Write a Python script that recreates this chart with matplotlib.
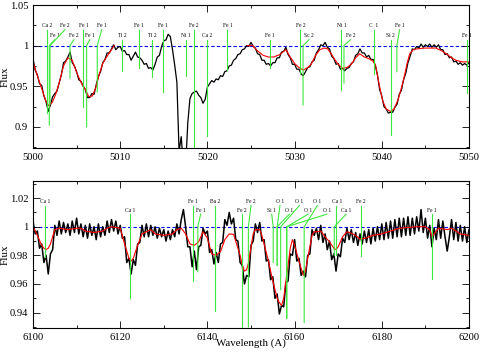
import numpy as np
import matplotlib
matplotlib.use("Agg")
import matplotlib.pyplot as plt
from matplotlib.ticker import MultipleLocator, FormatStrFormatter

plt.rcParams['font.family'] = ['Liberation Serif', 'DejaVu Serif']

# ---- top panel: observed spectrum (0.25 A steps, 5000-5050) ----
obs1_flux = [
    0.984, 0.970, 0.964, 0.953, 0.951, 0.938, 0.931, 0.919, 0.927, 0.937,
    0.941, 0.944, 0.954, 0.964, 0.979, 0.981, 0.986, 0.992, 0.979, 0.975,
    0.968, 0.958, 0.956, 0.950, 0.946, 0.936, 0.936, 0.941, 0.940, 0.952,
    0.962, 0.968, 0.979, 0.983, 0.991, 0.991, 0.996, 1.001, 0.995, 0.998,
    0.999, 0.993, 0.994, 0.989, 0.989, 0.982, 0.987, 0.992, 0.986, 0.985,
    0.982, 0.977, 0.978, 0.972, 0.973, 0.970, 0.977, 0.986, 0.988, 0.999,
    1.006, 1.007, 1.014, 1.011, 0.995, 0.976, 0.955, 0.870, 0.888, 0.850,
    0.850, 0.905, 0.935, 0.941, 0.943, 0.944, 0.939, 0.936, 0.929, 0.934,
    0.949, 0.953, 0.957, 0.955, 0.959, 0.958, 0.963, 0.962, 0.968, 0.969,
    0.975, 0.976, 0.982, 0.984, 0.989, 0.990, 0.995, 0.996, 1.000, 0.999,
    1.004, 0.999, 0.997, 0.990, 0.989, 0.982, 0.982, 0.977, 0.978, 0.975,
    0.979, 0.979, 0.985, 0.985, 0.992, 0.993, 0.998, 0.989, 0.985, 0.977,
    0.977, 0.971, 0.971, 0.965, 0.963, 0.968, 0.973, 0.974, 0.980, 0.982,
    0.991, 0.995, 1.001, 1.000, 1.004, 0.998, 0.996, 0.987, 0.984, 0.977,
    0.978, 0.971, 0.972, 0.969, 0.972, 0.973, 0.978, 0.980, 0.988, 0.990,
    0.996, 0.991, 0.991, 0.986, 0.988, 0.983, 0.983, 0.976, 0.964, 0.946,
    0.938, 0.925, 0.922, 0.917, 0.918, 0.918, 0.924, 0.928, 0.940, 0.945,
    0.958, 0.966, 0.979, 0.987, 0.996, 0.995, 0.999, 0.997, 1.002, 0.998,
    1.001, 0.999, 1.002, 0.998, 1.001, 0.998, 1.001, 0.995, 0.995, 0.989,
    0.990, 0.985, 0.986, 0.980, 0.981, 0.977, 0.979, 0.976, 0.978, 0.976,
    0.979,
]

# ---- top panel: model spectrum (two pieces) ----
mod1a_wl = [5000, 5000.5, 5001, 5001.5, 5001.8, 5002.2, 5002.6, 5003, 5003.5,
            5004, 5004.5, 5005, 5005.5, 5006, 5006.4, 5006.8, 5007.2, 5007.6,
            5008, 5008.5, 5009, 5009.3]
mod1a_flux = [0.980, 0.963, 0.947, 0.931, 0.926, 0.930, 0.940, 0.954, 0.975,
              0.985, 0.982, 0.967, 0.955, 0.946, 0.937, 0.938, 0.948, 0.965,
              0.978, 0.987, 0.995, 1.000]
mod1b_wl = [5024.6, 5025.2, 5025.7, 5026.4, 5027.0, 5027.6, 5028.3, 5029.0,
            5029.5, 5030.0, 5030.5, 5031.0, 5031.5, 5031.9, 5032.4, 5032.9,
            5033.4, 5033.8, 5034.2, 5034.6, 5035.0, 5035.5, 5036.0, 5036.5,
            5037.0, 5037.46, 5038.0, 5038.5, 5039.0, 5039.3, 5039.7, 5040.1,
            5040.5, 5041.0, 5041.4, 5041.85, 5042.2, 5042.6, 5042.9, 5043.2,
            5043.6, 5044.0, 5045.0, 5046.2, 5046.8, 5047.4, 5048.0, 5048.5,
            5049.2, 5050.0]
mod1b_flux = [1.000, 1.000, 0.994, 0.988, 0.986, 0.986, 0.989, 0.995,
              0.986, 0.978, 0.973, 0.970, 0.973, 0.977, 0.988, 0.995,
              0.997, 0.996, 0.990, 0.983, 0.977, 0.972, 0.973, 0.977,
              0.985, 0.990, 0.986, 0.984, 0.981, 0.975, 0.952, 0.932,
              0.922, 0.919, 0.922, 0.933, 0.946, 0.963, 0.978, 0.990,
              0.995, 0.996, 0.997, 0.997, 0.994, 0.990, 0.985, 0.982,
              0.980, 0.980]

# ---- bottom panel: observed spectrum (0.5 A steps, 6100-6200) ----
obs2_flux = [
    1.004, 0.995, 0.997, 0.985, 0.988, 0.975, 0.980, 0.967, 0.981, 0.984,
    1.001, 0.994, 1.004, 0.995, 1.003, 0.996, 1.002, 0.994, 1.004, 0.996,
    1.006, 0.995, 1.002, 0.993, 1.001, 0.992, 1.002, 0.994, 1.000, 0.991,
    1.002, 0.993, 1.000, 0.994, 1.004, 0.996, 1.005, 0.997, 1.004, 0.995,
    1.001, 0.992, 0.993, 0.975, 0.978, 0.967, 0.977, 0.973, 0.988, 0.989,
    1.001, 0.993, 1.002, 0.993, 1.001, 0.994, 1.000, 0.992, 0.999, 0.993,
    0.998, 0.990, 0.997, 0.991, 0.998, 0.993, 1.002, 0.995, 1.005, 1.012,
    1.000, 0.986, 0.986, 0.972, 0.983, 0.970, 0.986, 0.987, 0.999, 0.995,
    0.997, 0.982, 0.984, 0.974, 0.982, 0.975, 0.988, 0.989, 1.005, 1.001,
    1.010, 1.002, 1.006, 0.991, 0.990, 0.975, 0.973, 0.960, 0.966, 0.965,
    0.987, 0.990, 1.002, 0.996, 1.003, 0.990, 0.991, 0.976, 0.977, 0.963,
    0.965, 0.950, 0.953, 0.939, 0.945, 0.944, 0.961, 0.962, 0.981, 0.980,
    0.991, 0.976, 0.978, 0.966, 0.969, 0.965, 0.980, 0.981, 0.998, 0.994,
    0.999, 0.991, 1.001, 0.989, 0.995, 0.984, 0.990, 0.977, 0.981, 0.969,
    0.981, 0.979, 0.992, 0.989, 0.999, 0.991, 0.998, 0.989, 0.996, 0.987,
    0.995, 0.988, 0.997, 0.989, 0.998, 0.988, 0.999, 0.990, 1.000, 0.991,
    1.002, 0.991, 1.003, 0.992, 1.004, 0.992, 1.005, 0.993, 1.006, 0.993,
    1.006, 0.994, 1.007, 0.994, 1.006, 0.995, 1.007, 0.997, 1.012, 0.996,
    1.006, 0.992, 1.001, 0.986, 0.999, 0.991, 1.005, 0.992, 1.004, 0.993,
    0.983, 0.993, 1.005, 0.991, 1.003, 0.990, 1.001, 0.990, 1.000, 0.989,
    0.998,
]

mod2_wl = [6100, 6101, 6102, 6102.5, 6103, 6103.5, 6104, 6104.5, 6105, 6106,
           6108, 6110, 6111, 6112, 6114, 6116, 6117, 6118, 6120, 6121, 6122,
           6122.5, 6123, 6124, 6125, 6126, 6127, 6128, 6130, 6132, 6133, 6134,
           6135, 6136, 6137, 6138, 6139, 6140, 6141, 6142, 6143, 6144, 6145,
           6146, 6147, 6147.5, 6148, 6148.5, 6149, 6149.5, 6150, 6150.5, 6151,
           6152, 6152.5, 6153, 6154, 6155, 6156, 6156.5, 6157, 6157.5, 6158,
           6158.5, 6159, 6159.5, 6160, 6161, 6162, 6162.5, 6163, 6164, 6164.5,
           6165, 6166, 6167, 6168, 6169, 6169.5, 6170, 6171, 6172, 6173, 6174,
           6175, 6176, 6178, 6180, 6182, 6184, 6186, 6188, 6190, 6191, 6191.5,
           6192, 6193, 6195, 6196, 6198, 6200]
mod2_flux = [1.000, 0.994, 0.987, 0.985, 0.984, 0.985, 0.988, 0.993, 0.998,
             0.999, 0.998, 0.999, 0.999, 0.997, 0.996, 0.997, 0.999, 1.000,
             0.999, 0.988, 0.978, 0.976, 0.978, 0.987, 0.995, 0.9965, 0.998,
             0.995, 0.994, 0.995, 0.998, 0.999, 0.995, 0.988, 0.987, 0.9895,
             0.9965, 0.992, 0.981, 0.980, 0.9825, 0.991, 0.995, 0.9947, 0.985,
             0.980, 0.9735, 0.969, 0.970, 0.9756, 0.986, 0.995, 0.998, 0.998,
             0.994, 0.988, 0.976, 0.962, 0.950, 0.947, 0.945, 0.950, 0.962,
             0.973, 0.985, 0.991, 0.987, 0.976, 0.966, 0.969, 0.978, 0.994,
             0.9965, 0.9965, 0.997, 0.993, 0.9895, 0.985, 0.984, 0.986, 0.993,
             0.9965, 0.9955, 0.994, 0.9914, 0.9918, 0.994, 0.995, 0.997,
             0.999, 0.9995, 1.000, 1.000, 0.998, 0.993, 0.995, 0.999, 0.998,
             0.999, 0.995, 0.994]

# ---- line identifications: (line wl, label, row, label wl, depth) ----
ids_top = [
    (5001.57, "Ca 2", 1, 5001.57, 0.917),
    (5001.87, "Fe 1", 2, 5002.50, 0.902),
    (5001.95, "Fe 2", 1, 5003.65, 0.928),
    (5004.24, "Fe 2", 2, 5004.70, 0.960),
    (5005.77, "Fe 1", 1, 5005.77, 0.925),
    (5006.15, "Fe 1", 2, 5006.53, 0.900),
    (5007.37, "Fe 1", 1, 5007.87, 0.943),
    (5010.23, "Ti 2", 2, 5010.23, 0.969),
    (5012.10, "Fe 1", 1, 5012.10, 0.972),
    (5013.70, "Ti 2", 2, 5013.70, 0.962),
    (5014.93, "Fe 1", 1, 5014.93, 0.943),
    (5017.53, "Ni 1", 2, 5017.53, 0.963),
    (5018.48, "Fe 2", 1, 5018.48, 0.800),
    (5020.00, "Ca 2", 2, 5020.00, 0.889),
    (5022.30, "Fe 1", 1, 5022.30, 0.970),
    (5027.15, "Fe 1", 2, 5027.15, 0.972),
    (5030.66, "Fe 2", 1, 5030.66, 0.966),
    (5030.97, "Sc 2", 2, 5031.65, 0.927),
    (5035.36, "Ni 1", 1, 5035.36, 0.946),
    (5035.66, "Fe 2", 2, 5036.40, 0.954),
    (5039.06, "C  1", 1, 5039.06, 0.965),
    (5041.00, "Si 2", 2, 5041.00, 0.890),
    (5041.73, "Fe 1", 1, 5042.04, 0.968),
    (5049.80, "Fe 1", 2, 5049.80, 0.942),
]
ids_bot = [
    (6102.75, "Ca 1", 1, 6102.75, 0.979),
    (6122.25, "Ca 1", 2, 6122.25, 0.9505),
    (6136.60, "Fe 1", 1, 6136.60, 0.962),
    (6137.80, "Fe 1", 2, 6138.45, 0.9686),
    (6141.80, "Ba 2", 1, 6141.80, 0.9408),
    (6147.86, "Fe 2", 2, 6147.86, 0.930),
    (6149.40, "Fe 2", 1, 6150.00, 0.930),
    (6155.10, "Si 1", 2, 6154.75, 0.975),
    (6156.00, "O 1", 1, 6156.65, 0.973),
    (6156.00, "O 1", 2, 6158.80, 0.973),
    (6156.80, "O 1", 1, 6161.10, 0.956),
    (6158.20, "O 1", 2, 6163.10, 0.936),
    (6162.20, "O 1", 1, 6165.20, 0.933),
    (6158.20, "O 1", 2, 6167.40, 0.936),
    (6169.60, "Ca 1", 1, 6169.65, 0.980),
    (6169.10, "Ca 1", 2, 6171.80, 0.980),
    (6175.20, "Fe 2", 1, 6175.20, 0.9796),
    (6191.45, "Fe 1", 2, 6191.45, 0.9636),
]

GREEN = '#3de83d'


def draw_ids(ax, ids, rows_y, starts_y, knee):
    for wl, lab, row, lwl, depth in ids:
        ax.text(lwl, rows_y[row], lab, fontsize=4, ha='center', va='center')
        if abs(lwl - wl) > 0.05:
            xs = [lwl, wl, wl]
            ys = [starts_y[row], knee, depth]
        else:
            xs = [wl, wl]
            ys = [starts_y[row], depth]
        ax.plot(xs, ys, color=GREEN, lw=0.8, zorder=3)


def style(ax):
    ax.tick_params(which='both', direction='in', top=True, right=True,
                   labelsize=7.6, width=0.6)
    ax.tick_params(which='major', length=5)
    ax.tick_params(which='minor', length=2.5)
    for s in ax.spines.values():
        s.set_linewidth(0.8)
    ax.yaxis.set_major_formatter(FormatStrFormatter('%g'))


fig = plt.figure(figsize=(4.8, 3.53), dpi=100)
W, H = 480.0, 353.0

# top panel
ax1 = fig.add_axes([33 / W, 1 - 148 / H, 436 / W, 143 / H])
wl1 = np.linspace(5000, 5050, len(obs1_flux))
ax1.plot(wl1, obs1_flux, color='black', lw=0.9, zorder=2)
ax1.plot(mod1a_wl, mod1a_flux, color='red', lw=0.8, zorder=2.5)
ax1.plot(mod1b_wl, mod1b_flux, color='red', lw=0.8, zorder=2.5)
ax1.axhline(1.0, color='blue', lw=0.8, dashes=(3, 2), zorder=1)
draw_ids(ax1, ids_top, {1: 1.0244, 2: 1.0122}, {1: 1.0195, 2: 1.0073}, 1.0)
ax1.set_xlim(5000, 5050)
ax1.set_ylim(0.874, 1.05)
ax1.xaxis.set_major_locator(MultipleLocator(10))
ax1.xaxis.set_minor_locator(MultipleLocator(5))
ax1.yaxis.set_major_locator(MultipleLocator(0.05))
ax1.yaxis.set_minor_locator(MultipleLocator(0.025))
style(ax1)

# bottom panel
ax2 = fig.add_axes([33 / W, 1 - 328.3 / H, 436 / W, 147.3 / H])
wl2 = np.linspace(6100, 6200, len(obs2_flux))
ax2.plot(wl2, obs2_flux, color='black', lw=1.1, zorder=2)
ax2.plot(mod2_wl, mod2_flux, color='red', lw=0.8, zorder=2.5)
ax2.axhline(1.0, color='blue', lw=0.8, dashes=(3, 2), zorder=1)
draw_ids(ax2, ids_bot, {1: 1.0179, 2: 1.0114}, {1: 1.0148, 2: 1.0088}, 1.0)
ax2.set_xlim(6100, 6200)
ax2.set_ylim(0.929, 1.032)
ax2.xaxis.set_major_locator(MultipleLocator(20))
ax2.xaxis.set_minor_locator(MultipleLocator(10))
ax2.yaxis.set_major_locator(MultipleLocator(0.02))
ax2.yaxis.set_minor_locator(MultipleLocator(0.01))
style(ax2)

fig.text(5.5 / W, 1 - 76.5 / H, 'Flux', rotation=90, ha='center', va='center', fontsize=8)
fig.text(5.5 / W, 1 - 254.5 / H, 'Flux', rotation=90, ha='center', va='center', fontsize=8)
fig.text(251 / W, 1 - 343 / H, 'Wavelength (A)', ha='center', va='center', fontsize=7.8)

fig.savefig('out.png', dpi=100)
